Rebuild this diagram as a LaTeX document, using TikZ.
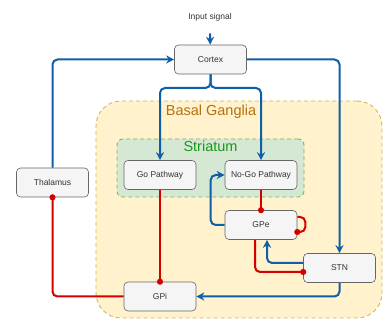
\documentclass[tikz,border=0pt]{standalone}
\usepackage{fontspec}
\setmainfont{Liberation Sans}
\usetikzlibrary{arrows.meta}
\definecolor{boxfill}{HTML}{F5F5F5}
\definecolor{boxline}{HTML}{666666}
\definecolor{boxtext}{HTML}{333333}
\definecolor{linkblue}{HTML}{0F5EA8}
\definecolor{linkred}{HTML}{D40000}
\definecolor{bgfill}{HTML}{FFF2CC}
\definecolor{bgline}{HTML}{D6B656}
\definecolor{bgtext}{HTML}{B5700F}
\definecolor{stfill}{HTML}{D5E8D4}
\definecolor{stline}{HTML}{82B366}
\definecolor{sttext}{HTML}{1A961A}
\tikzstyle{block} = [draw=boxline,fill=boxfill,text=boxtext,rounded corners=4pt,line width=0.6pt,minimum width=72pt,minimum height=29pt,font=\fontsize{8.5}{10}\selectfont]
\tikzstyle{region} = [dashed,line width=0.9pt,dash pattern=on 4pt off 3pt]
\tikzstyle{excite} = [draw=linkblue,line width=2pt,rounded corners=5pt,-{Stealth[length=8pt,width=8pt]}]
\tikzstyle{inhibit} = [draw=linkred,line width=2pt,rounded corners=5pt,-{Circle[length=6pt]},shorten >=-3pt]

\begin{document}
\begin{tikzpicture}[x=1pt,y=-1pt]
  \useasboundingbox (0,0) rectangle (384,320);
  \node[region,draw=bgline,fill=bgfill,rounded corners=25pt,minimum width=286pt,minimum height=217pt] (ganglia) at (239,209.5) {};
  \node[text=bgtext,font=\fontsize{14.5}{16}\selectfont] (gangliatitle) at (211,112) {Basal Ganglia};
  \node[region,draw=stline,fill=stfill,rounded corners=6pt,minimum width=187pt,minimum height=58pt] (striatum) at (210.5,168) {};
  \node[text=sttext,font=\fontsize{14.5}{16}\selectfont] (striatumtitle) at (210.5,146) {Striatum};

  \node[text=boxtext,font=\fontsize{8.5}{10}\selectfont] (input) at (210,17) {Input signal};
  \node[block] (cortex) at (210.5,59.5) {Cortex};
  \node[block] (thalamus) at (52.5,182.5) {Thalamus};
  \node[block] (go) at (160,175) {Go Pathway};
  \node[block] (nogo) at (261,175) {No-Go Pathway};
  \node[block] (gpe) at (261,225) {GPe};
  \node[block] (stn) at (339.5,268) {STN};
  \node[block] (gpi) at (160,296.5) {GPi};
  \coordinate (split) at (210.5,88);

  \draw[excite] ([yshift=-9pt]input.south) -- (cortex);
  \draw[excite] (thalamus.north) |- (cortex.west);
  \draw[excite] (cortex.east) -| (stn.north);
  \draw[excite] (cortex.south) -- (split) -| (go.north);
  \draw[excite] (cortex.south) -- (split) -| (nogo.north);
  \draw[excite] (gpe.west) -- ++(-14,0) |- (nogo.west);
  \draw[excite] ([yshift=5pt]stn.west) -| ([xshift=6pt]gpe.south);
  \draw[excite] (stn.south) |- (gpi.east);

  \draw[inhibit] (go.south) -- (gpi.north);
  \draw[inhibit] (nogo.south) -- (gpe.north);
  \draw[inhibit] ([yshift=8pt]gpe.east) -- ++(8,0) |- ([yshift=-7pt]gpe.east);
  \draw[inhibit] ([xshift=-6pt]gpe.south) |- ([yshift=-4pt]stn.west);
  \draw[inhibit] (gpi.west) -| (thalamus.south);
\end{tikzpicture}
\end{document}
